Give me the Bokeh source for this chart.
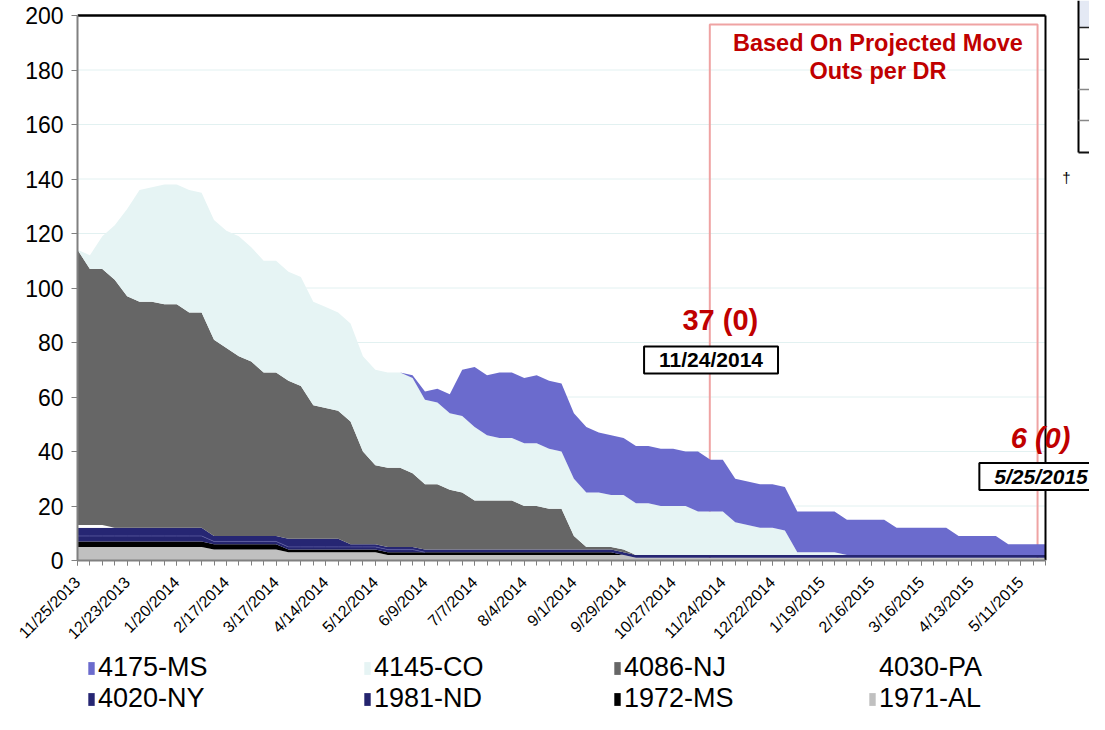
from bokeh.plotting import figure
from bokeh.models import (ColumnDataSource, FixedTicker, Label, Legend, LegendItem, Range1d)
from bokeh.layouts import column
from bokeh.embed import file_html
from bokeh.resources import INLINE
from math import pi

FONT = "Liberation Sans"

# ---------------- data ----------------
week_index = list(range(79))   # weekly points 11/25/2013 ... 5/25/2015
tick_positions = [0, 4, 8, 12, 16, 20, 24, 28, 32, 36, 40, 44, 48, 52, 56, 60, 64, 68, 72, 76]
tick_labels = ["11/25/2013", "12/23/2013", "1/20/2014", "2/17/2014", "3/17/2014",
               "4/14/2014", "5/12/2014", "6/9/2014", "7/7/2014", "8/4/2014",
               "9/1/2014", "9/29/2014", "10/27/2014", "11/24/2014", "12/22/2014",
               "1/19/2015", "2/16/2015", "3/16/2015", "4/13/2015", "5/11/2015"]
y_ticks = [0, 20, 40, 60, 80, 100, 120, 140, 160, 180, 200]

s_1971_AL = [5, 5, 5, 5, 5, 5, 5, 5, 5, 5,
             5, 4, 4, 4, 4, 4, 4, 3, 3, 3,
             3, 3, 3, 3, 3, 2, 2, 2, 2, 2,
             2, 2, 2, 2, 2, 2, 2, 2, 2, 2,
             2, 2, 2, 2, 2, 1, 1, 1, 1, 1,
             1, 1, 1, 1, 1, 1, 1, 1, 1, 1,
             1, 1, 1, 1, 1, 1, 1, 1, 1, 1,
             1, 1, 1, 1, 1, 1, 1, 1, 1]
s_1972_MS = [2, 2, 2, 2, 2, 2, 2, 2, 2, 2,
             2, 2, 2, 2, 2, 2, 2, 1, 1, 1,
             1, 1, 1, 1, 1, 1, 1, 1, 1, 1,
             1, 1, 1, 1, 1, 1, 1, 1, 1, 1,
             1, 1, 1, 1, 0, 0, 0, 0, 0, 0,
             0, 0, 0, 0, 0, 0, 0, 0, 0, 0,
             0, 0, 0, 0, 0, 0, 0, 0, 0, 0,
             0, 0, 0, 0, 0, 0, 0, 0, 0]
s_1981_ND = [2, 2, 2, 2, 2, 2, 2, 2, 2, 2,
             2, 1, 1, 1, 1, 1, 1, 1, 1, 1,
             1, 1, 1, 1, 1, 1, 1, 1, 0, 0,
             0, 0, 0, 0, 0, 0, 0, 0, 0, 0,
             0, 0, 0, 0, 0, 0, 0, 0, 0, 0,
             0, 0, 0, 0, 0, 0, 0, 0, 0, 0,
             0, 0, 0, 0, 0, 0, 0, 0, 0, 0,
             0, 0, 0, 0, 0, 0, 0, 0, 0]
s_4020_NY = [3, 3, 3, 3, 3, 3, 3, 3, 3, 3,
             3, 2, 2, 2, 2, 2, 2, 3, 3, 3,
             3, 3, 1, 1, 1, 1, 1, 1, 1, 1,
             1, 1, 1, 1, 1, 1, 1, 1, 1, 1,
             1, 1, 1, 1, 1, 1, 1, 1, 1, 1,
             1, 1, 1, 1, 1, 1, 1, 1, 1, 1,
             1, 1, 1, 1, 1, 1, 1, 1, 1, 1,
             1, 1, 1, 1, 1, 1, 1, 1, 1]
s_4030_PA = [1, 1, 1, 0, 0, 0, 0, 0, 0, 0,
             0, 0, 0, 0, 0, 0, 0, 0, 0, 0,
             0, 0, 0, 0, 0, 0, 0, 0, 0, 0,
             0, 0, 0, 0, 0, 0, 0, 0, 0, 0,
             0, 0, 0, 0, 0, 0, 0, 0, 0, 0,
             0, 0, 0, 0, 0, 0, 0, 0, 0, 0,
             0, 0, 0, 0, 0, 0, 0, 0, 0, 0,
             0, 0, 0, 0, 0, 0, 0, 0, 0]
s_4086_NJ = [101, 94, 94, 91, 85, 83, 83, 82, 82, 79,
             79, 72, 69, 66, 64, 60, 60, 58, 56, 49,
             48, 47, 45, 34, 29, 29, 29, 27, 24, 24,
             22, 21, 18, 18, 18, 18, 16, 16, 15, 15,
             5, 1, 1, 1, 1, 0, 0, 0, 0, 0,
             0, 0, 0, 0, 0, 0, 0, 0, 0, 0,
             0, 0, 0, 0, 0, 0, 0, 0, 0, 0,
             0, 0, 0, 0, 0, 0, 0, 0, 0]
s_4145_CO = [0, 5, 12, 20, 32, 41, 42, 44, 44, 45,
             44, 44, 43, 44, 42, 41, 41, 40, 40, 38,
             37, 36, 36, 35, 35, 35, 35, 35, 31, 30,
             28, 28, 27, 24, 23, 23, 23, 23, 22, 21,
             21, 20, 20, 19, 20, 19, 19, 18, 18, 18,
             16, 16, 16, 12, 11, 10, 10, 9, 1, 1,
             1, 1, 0, 0, 0, 0, 0, 0, 0, 0,
             0, 0, 0, 0, 0, 0, 0, 0, 0]
s_4175_MS = [0, 0, 0, 0, 0, 0, 0, 0, 0, 0,
             0, 0, 0, 0, 0, 0, 0, 0, 0, 0,
             0, 0, 0, 0, 0, 0, 0, 1, 3, 5,
             7, 17, 22, 22, 24, 24, 24, 25, 25, 25,
             24, 24, 22, 22, 21, 21, 21, 21, 21, 20,
             22, 19, 19, 16, 16, 16, 16, 16, 15, 15,
             15, 15, 13, 13, 13, 13, 10, 10, 10, 10,
             10, 7, 7, 7, 7, 4, 4, 4, 4]

series_names = ["1971-AL", "1972-MS", "1981-ND", "4020-NY", "4030-PA",
                "4086-NJ", "4145-CO", "4175-MS"]
series_colors = ["#C0C0C0", "#000000", "#24246E", "#262673", "#FFFFFF",
                 "#666666", "#E6F4F4", "#6B6BCD"]
series_values = [s_1971_AL, s_1972_MS, s_1981_ND, s_4020_NY, s_4030_PA,
                 s_4086_NJ, s_4145_CO, s_4175_MS]

data = {"x": week_index}
for n, v in zip(series_names, series_values):
    data[n] = v
source = ColumnDataSource(data)
nd_top = [a + b + c for a, b, c in zip(s_1971_AL, s_1972_MS, s_1981_ND)]

# ---------------- main figure ----------------
X_LAST = 78                       # last week index (right border of the plot area)
X_END = X_LAST + 44 / 12.41       # frame continues to the canvas edge
Y_END = 200 + 15 / 2.725          # frame continues to the canvas top

p = figure(width=1089, height=652, output_backend="svg", toolbar_location=None,
           x_range=Range1d(0, X_END), y_range=Range1d(0, Y_END),
           min_border_left=77, min_border_right=0, min_border_top=0, min_border_bottom=92)
p.background_fill_color = "white"
p.border_fill_color = "white"
p.outline_line_color = None
p.xgrid.grid_line_color = None
p.ygrid.grid_line_color = None

# horizontal grid lines limited to the plot area
g_vals = y_ticks[1:-1]
p.segment(x0=[0] * len(g_vals), x1=[X_LAST] * len(g_vals), y0=g_vals, y1=g_vals,
          line_color="#E2F1F1", line_width=1, level="underlay")

# red projection box (behind the areas)
p.quad(left=[50.95], right=[77.36], bottom=[0], top=[196.7],
       fill_color=None, line_color="#EFA3A3", line_width=2)

renderers = p.varea_stack(stackers=series_names, x="x", color=series_colors, source=source)
p.line(week_index[:29], nd_top[:29], line_color="#5A5AA0", line_width=0.8)

# top and right borders of the plot area
p.segment(x0=[0], x1=[X_LAST], y0=[200], y1=[200], line_color="black", line_width=2.5)
p.segment(x0=[X_LAST], x1=[X_LAST], y0=[0], y1=[200], line_color="black", line_width=2)

# axes
p.xaxis.bounds = (0, X_LAST)
p.xaxis.ticker = FixedTicker(ticks=tick_positions, minor_ticks=week_index)
p.xaxis.major_label_overrides = {t: l for t, l in zip(tick_positions, tick_labels)}
p.xaxis.major_label_orientation = pi / 4
p.xaxis.major_label_text_font = FONT
p.xaxis.major_label_text_font_size = "16px"
p.xaxis.major_label_text_color = "black"
p.xaxis.major_label_standoff = 14
p.xaxis.axis_line_color = "#808080"
p.xaxis.axis_line_width = 2
p.xaxis.major_tick_line_color = "#808080"
p.xaxis.minor_tick_line_color = "#808080"
p.xaxis.major_tick_in = 0
p.xaxis.major_tick_out = 5
p.xaxis.minor_tick_in = 0
p.xaxis.minor_tick_out = 5

p.yaxis.bounds = (0, 200)
p.yaxis.ticker = FixedTicker(ticks=y_ticks)
p.yaxis.major_label_text_font = FONT
p.yaxis.major_label_text_font_size = "23px"
p.yaxis.major_label_text_color = "black"
p.yaxis.major_label_standoff = 8
p.yaxis.axis_line_color = "#808080"
p.yaxis.axis_line_width = 2
p.yaxis.major_tick_line_color = "#808080"
p.yaxis.major_tick_in = 0
p.yaxis.major_tick_out = 6
p.yaxis.minor_tick_line_color = None

# annotations
RED = "#C00000"
p.add_layout(Label(x=64.5, y=189.9, text="Based On Projected Move", text_font=FONT,
                   text_font_size="23.5px", text_font_style="bold", text_color=RED,
                   text_align="center", text_baseline="middle"))
p.add_layout(Label(x=64.5, y=179.6, text="Outs per DR", text_font=FONT,
                   text_font_size="23.5px", text_font_style="bold", text_color=RED,
                   text_align="center", text_baseline="middle"))
p.add_layout(Label(x=51.8, y=88.1, text="37 (0)", text_font=FONT,
                   text_font_size="29px", text_font_style="bold", text_color=RED,
                   text_align="center", text_baseline="middle"))
p.add_layout(Label(x=51.05, y=73.6, text="11/24/2014", text_font=FONT,
                   text_font_size="21px", text_font_style="bold", text_color="black",
                   text_align="center", text_baseline="middle",
                   background_fill_color="white", border_line_color="black",
                   border_line_width=2,
                   padding=dict(left=15, right=15, top=2, bottom=2)))
p.add_layout(Label(x=77.6, y=44.8, text="6 (0)", text_font=FONT,
                   text_font_size="29px", text_font_style="bold italic", text_color=RED,
                   text_align="center", text_baseline="middle"))
p.add_layout(Label(x=77.28, y=30.8, text="5/25/2015", text_font=FONT,
                   text_font_size="21px", text_font_style="bold italic", text_color="black",
                   text_align="center", text_baseline="middle",
                   background_fill_color="white", border_line_color="black",
                   border_line_width=2,
                   padding=dict(left=15, right=6, top=2, bottom=2)))

# clipped fragment of a neighbouring table on the right edge
TX = 80.66
p.quad(left=[TX], right=[X_END], bottom=[195.6], top=[Y_END],
       fill_color="#E4E9F4", line_color=None)
p.segment(x0=[TX], x1=[TX], y0=[149.7], y1=[Y_END], line_color="black", line_width=2)
p.segment(x0=[TX] * 5, x1=[X_END] * 5, y0=[195.6, 183.9, 172.8, 161.5, 149.7],
          y1=[195.6, 183.9, 172.8, 161.5, 149.7],
          line_color=["#222222", "#222222", "#888888", "#888888", "#111111"],
          line_width=[1.5, 1.5, 1.5, 1.5, 2])
p.add_layout(Label(x=79.69, y=140.5, text="†", text_font=FONT, text_font_size="15px",
                   text_color="black", text_align="center", text_baseline="middle"))

# ---------------- legend strip ----------------
leg = figure(width=1089, height=62, output_backend="svg", toolbar_location=None,
             x_range=Range1d(0, 1089), y_range=Range1d(0, 62),
             x_axis_type=None, y_axis_type=None, min_border=0)
leg.outline_line_color = None
leg.background_fill_color = "white"
leg.border_fill_color = "white"
dummy = {}
for n, c in zip(series_names, series_colors):
    dummy[n] = leg.varea(x=[0, 1], y1=[-5, -5], y2=[-5, -5], fill_color=c)

columns = [("4175-MS", "4020-NY"), ("4145-CO", "1981-ND"),
           ("4086-NJ", "1972-MS"), ("4030-PA", "1971-AL")]
col_x = [10, 286, 536, 791]      # offsets from the aligned plot-area left edge
for cx, (a, b) in zip(col_x, columns):
    lg = Legend(items=[LegendItem(label=a, renderers=[dummy[a]]),
                       LegendItem(label=b, renderers=[dummy[b]])],
                location=(cx, 0), orientation="vertical",
                border_line_color=None, background_fill_alpha=0,
                padding=0, margin=0, spacing=0,
                label_text_font=FONT, label_text_font_size="27px",
                label_text_color="black", glyph_width=8, glyph_height=16,
                label_standoff=3, label_height=31)
    leg.add_layout(lg)

layout = column(p, leg, spacing=0)
open("out.html", "w").write(file_html(layout, INLINE))
